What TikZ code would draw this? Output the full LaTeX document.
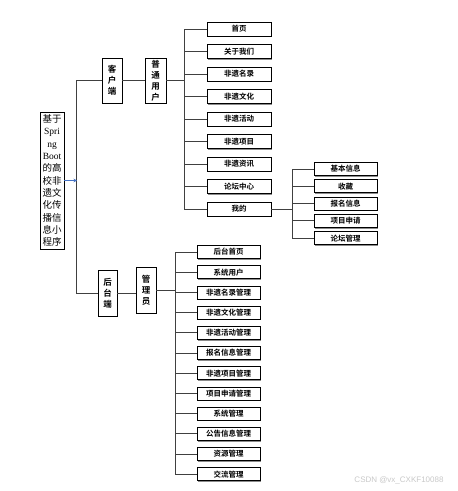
\documentclass[tikz,border=0pt]{standalone}
\usepackage{fontspec}
\setmainfont{Liberation Serif}
\newfontfamily\cjk{Noto Sans CJK SC}[BoldFont={Noto Sans CJK SC Bold}]
\newfontfamily\marksans{Liberation Sans}
\usetikzlibrary{arrows.meta,positioning,shadows}
\definecolor{linegray}{HTML}{404040}
\definecolor{shadowgray}{HTML}{8C8C8C}
\definecolor{arrowblue}{HTML}{4472C4}
\definecolor{markgray}{HTML}{C8C8C8}

\begin{document}
\begin{tikzpicture}[
  x=1pt,y=-1pt,
  node distance=7.7pt,
  box/.style={draw=black,line width=0.8pt,fill=white,inner sep=0pt,align=center,
    drop shadow={shadow xshift=1.2pt,shadow yshift=-1.2pt,fill=shadowgray,opacity=1}},
  vbox/.style={box,minimum width=20pt,minimum height=45pt,font=\cjk\bfseries\fontsize{8.5}{11}\selectfont},
  leaf/.style={box,minimum width=64pt,minimum height=14pt,font=\cjk\bfseries\fontsize{7.5}{9}\selectfont},
  wire/.style={draw=linegray,line width=0.9pt},
  arrow/.style={-{Stealth[length=3.5pt,width=3.5pt]},draw=arrowblue,line width=0.6pt}
]
\useasboundingbox (0,0) rectangle (458,491);
\node[box,minimum width=24pt,minimum height=137pt,font=\fontsize{9.5}{12.3}\selectfont] (root) at (52,180.5)
  {{\cjk 基于}\\Spri\\ng\\Boot\\{\cjk 的高}\\{\cjk 校非}\\{\cjk 遗文}\\{\cjk 化传}\\{\cjk 播信}\\{\cjk 息小}\\{\cjk 程序}};
\node[vbox] (client) at (112,80.5) {客\\户\\端};
\node[vbox,minimum width=21pt] (user) at (155.5,80.5) {普\\通\\用\\户};
\node[vbox,minimum width=19pt,minimum height=46pt] (backend) at (107.5,293) {后\\台\\端};
\node[vbox,minimum height=46pt] (admin) at (146,290) {管\\理\\员};
% user side
\node[leaf] (home) at (239,29) {首页};
\node[leaf,below=of home] (about) {关于我们};
\node[leaf,below=of about] (list) {非遗名录};
\node[leaf,below=of list] (culture) {非遗文化};
\node[leaf,below=of culture] (event) {非遗活动};
\node[leaf,below=of event] (project) {非遗项目};
\node[leaf,below=of project] (news) {非遗资讯};
\node[leaf,below=of news] (forum) {论坛中心};
\node[leaf,below=of forum] (mine) {我的};
\node[leaf,minimum width=63pt,minimum height=13pt] (info) at (345.5,169) {基本信息};
\node[leaf,minimum width=63pt,minimum height=13pt,below=3.5pt of info] (fav) {收藏};
\node[leaf,minimum width=63pt,minimum height=13pt,below=3.5pt of fav] (signup) {报名信息};
\node[leaf,minimum width=63pt,minimum height=13pt,below=3.5pt of signup] (apply) {项目申请};
\node[leaf,minimum width=63pt,minimum height=13pt,below=3.5pt of apply] (myforum) {论坛管理};
% admin side
\node[leaf,minimum width=63pt,minimum height=13pt] (dash) at (228.5,252) {后台首页};
\node[leaf,minimum width=63pt,minimum height=13pt,below=6.4pt of dash] (sysuser) {系统用户};
\node[leaf,minimum width=63pt,minimum height=13pt,below=6.4pt of sysuser] (listmgr) {非遗名录管理};
\node[leaf,minimum width=63pt,minimum height=13pt,below=6.4pt of listmgr] (culturemgr) {非遗文化管理};
\node[leaf,minimum width=63pt,minimum height=13pt,below=6.4pt of culturemgr] (eventmgr) {非遗活动管理};
\node[leaf,minimum width=63pt,minimum height=13pt,below=6.4pt of eventmgr] (signupmgr) {报名信息管理};
\node[leaf,minimum width=63pt,minimum height=13pt,below=6.4pt of signupmgr] (projectmgr) {非遗项目管理};
\node[leaf,minimum width=63pt,minimum height=13pt,below=6.4pt of projectmgr] (applymgr) {项目申请管理};
\node[leaf,minimum width=63pt,minimum height=13pt,below=6.4pt of applymgr] (sysmgr) {系统管理};
\node[leaf,minimum width=63pt,minimum height=13pt,below=6.4pt of sysmgr] (noticemgr) {公告信息管理};
\node[leaf,minimum width=63pt,minimum height=13pt,below=6.4pt of noticemgr] (resmgr) {资源管理};
\node[leaf,minimum width=63pt,minimum height=13pt,below=6.4pt of resmgr] (talkmgr) {交流管理};
\node[text=markgray,font=\marksans\fontsize{8}{9}\selectfont] (mark) at (399,480) {CSDN @vx\_CXKF10088};
% connectors
\coordinate (trunk) at (77,180.5);
\draw[wire] (client.west) -- ++(-25,0) |- (backend.west);
\draw[arrow] (root.east) -- (trunk);
\draw[wire] (client.east) -- (user.west);
\draw[wire] (backend.east) -- (backend.east -| admin.west);
\draw[wire] (user.east) -- ++(19,0);
\draw[wire] (home.west) -- ++(-22,0) |- (mine.west);
\draw[wire] (about.west) -- ++(-22,0) (list.west) -- ++(-22,0) (culture.west) -- ++(-22,0)
  (event.west) -- ++(-22,0) (project.west) -- ++(-22,0) (news.west) -- ++(-22,0) (forum.west) -- ++(-22,0);
\draw[wire] (mine.east) -- ++(22,0);
\draw[wire] (info.west) -- ++(-21,0) |- (myforum.west);
\draw[wire] (fav.west) -- ++(-21,0) (signup.west) -- ++(-21,0) (apply.west) -- ++(-21,0);
\draw[wire] (admin.east) -- ++(20,0);
\draw[wire] (dash.west) -- ++(-21,0) |- (talkmgr.west);
\draw[wire] (sysuser.west) -- ++(-21,0) (listmgr.west) -- ++(-21,0) (culturemgr.west) -- ++(-21,0)
  (eventmgr.west) -- ++(-21,0) (signupmgr.west) -- ++(-21,0) (projectmgr.west) -- ++(-21,0)
  (applymgr.west) -- ++(-21,0) (sysmgr.west) -- ++(-21,0) (noticemgr.west) -- ++(-21,0) (resmgr.west) -- ++(-21,0);
\end{tikzpicture}
\end{document}
